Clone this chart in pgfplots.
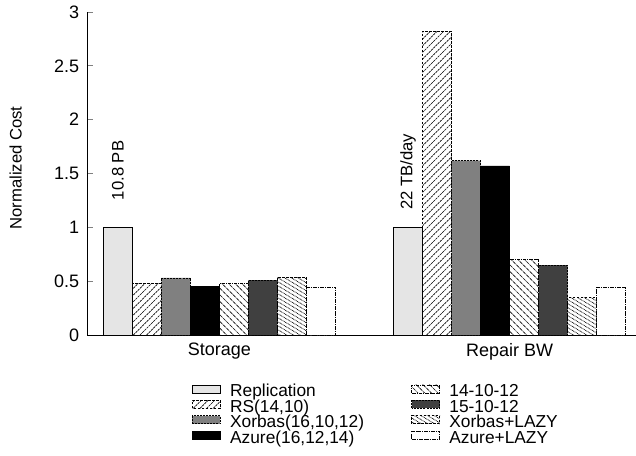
\documentclass[border=0pt,12pt]{standalone}
\usepackage{fontspec}
\setmainfont{Liberation Sans}
\usepackage{pgfplots}
\pgfplotsset{compat=1.18}
\usetikzlibrary{patterns.meta}

\pgfdeclarepattern{name=hatchNE, type=uncolored,
  bottom left={\pgfpoint{-.5pt}{-.5pt}}, top right={\pgfpoint{5.5pt}{5.5pt}},
  tile size={\pgfpoint{5pt}{5pt}},
  code={\pgfsetlinewidth{0.5pt}\pgfsetdash{{1.77pt}{0.59pt}}{0pt}%
    \pgfpathmoveto{\pgfpoint{0pt}{0pt}}\pgfpathlineto{\pgfpoint{5pt}{5pt}}\pgfusepath{stroke}}}
\pgfdeclarepattern{name=hatchNW, type=uncolored,
  bottom left={\pgfpoint{-.5pt}{-.5pt}}, top right={\pgfpoint{5.5pt}{5.5pt}},
  tile size={\pgfpoint{5pt}{5pt}},
  code={\pgfsetlinewidth{0.5pt}\pgfsetdash{{2.2pt}{0.5pt}{0.3pt}{0.5pt}}{0pt}%
    \pgfpathmoveto{\pgfpoint{0pt}{5pt}}\pgfpathlineto{\pgfpoint{5pt}{0pt}}\pgfusepath{stroke}}}
\pgfdeclarepattern{name=dotsNW, type=uncolored,
  bottom left={\pgfpoint{-.5pt}{-.5pt}}, top right={\pgfpoint{5.5pt}{3.5pt}},
  tile size={\pgfpoint{5pt}{3pt}},
  code={\pgfsetlinewidth{0.55pt}\pgfsetdash{{0.6pt}{0.55pt}}{0pt}%
    \pgfpathmoveto{\pgfpoint{0pt}{3pt}}\pgfpathlineto{\pgfpoint{5pt}{0pt}}\pgfusepath{stroke}}}

\pgfplotsset{
  bstyle/.style={ybar, bar width=0.1, bar shift=#1, line width=0.5pt,
    legend image code/.code={\draw[##1] (0pt,-0.5pt) rectangle (21pt,5.5pt);}},
}

\begin{document}
\begin{tikzpicture}
\path[use as bounding box] (-65.6pt,-90pt) rectangle (411.4pt,251.25pt);
\begin{axis}[
  at={(0pt,0pt)}, anchor=south west, scale only axis,
  width=411.4pt, height=242.25pt,
  xmin=-0.455, xmax=1.436, ymin=0, ymax=3,
  axis x line*=bottom, axis y line*=left,
  axis line style={-, line width=0.6pt},
  xtick={0,1}, xticklabels={Storage,Repair BW},
  xtick style={draw=none},
  ytick={0,0.5,1,1.5,2,2.5,3},
  ytick style={line width=0.6pt},
  tick align=inside, major tick length=4.5pt,
  tick label style={font=\fontsize{13.5}{16}\selectfont},
  yticklabel style={xshift=-2pt},
  xticklabel style={yshift=-2pt},
  /pgf/number format/assume math mode=true,
  ylabel={Normalized Cost},
  ylabel style={at={(axis description cs:-0.131,0.517)}, anchor=center, font=\fontsize{12.5}{15}\selectfont},
  legend columns=4, transpose legend,
  legend cell align=left,
  legend style={at={(axis description cs:0.183,-0.144)}, anchor=north west,
    draw=none, fill=none, row sep=0pt, font=\fontsize{13}{15}\selectfont,
    nodes={inner ysep=0pt, inner xsep=2pt, text height=9.2pt, text depth=2.4pt},
    /tikz/every odd column/.append style={column sep=5pt},
    /tikz/every even column/.append style={column sep=33.5pt}},
]
\addplot[bstyle=-0.35, draw=black, fill=black!10] coordinates {(0,1.0) (1,1.0)};
\addlegendentry{Replication}
\addplot[bstyle=-0.25, draw=black, dash pattern=on 2pt off 1pt, pattern=hatchNE, pattern color=black] coordinates {(0,0.48) (1,2.82)};
\addlegendentry{RS(14,10)}
\addplot[bstyle=-0.15, draw=black, dash pattern=on 1.5pt off 0.8pt, fill=black!50] coordinates {(0,0.53) (1,1.62)};
\addlegendentry{Xorbas(16,10,12)}
\addplot[bstyle=-0.05, draw=black, fill=black] coordinates {(0,0.448) (1,1.57)};
\addlegendentry{Azure(16,12,14)}
\addplot[bstyle=0.05, draw=black, dash pattern=on 2.5pt off 0.8pt on 0.5pt off 0.8pt, pattern=hatchNW, pattern color=black] coordinates {(0,0.48) (1,0.70)};
\addlegendentry{14-10-12}
\addplot[bstyle=0.15, draw=black, dash pattern=on 1.5pt off 0.8pt, fill=black!75] coordinates {(0,0.51) (1,0.65)};
\addlegendentry{15-10-12}
\addplot[bstyle=0.25, draw=black, dash pattern=on 2pt off 1pt, pattern=dotsNW, pattern color=black] coordinates {(0,0.535) (1,0.35)};
\addlegendentry{Xorbas+LAZY}
\addplot[bstyle=0.35, draw=black, dash pattern=on 3pt off 0.8pt on 0.5pt off 0.8pt, fill=white] coordinates {(0,0.445) (1,0.443)};
\addlegendentry{Azure+LAZY}
\node[rotate=90, anchor=west, inner sep=0pt, font=\fontsize{12.5}{15}\selectfont] at (axis cs:-0.35,1.25) {10.8 PB};
\node[rotate=90, anchor=west, inner sep=0pt, font=\fontsize{12.5}{15}\selectfont] at (axis cs:0.65,1.16) {22 TB/day};
\end{axis}
\end{tikzpicture}
\end{document}
